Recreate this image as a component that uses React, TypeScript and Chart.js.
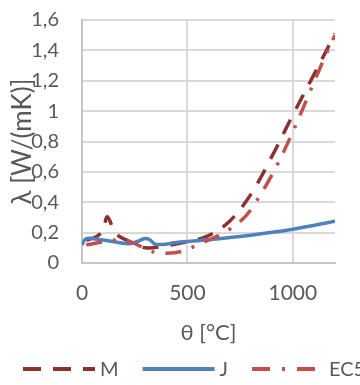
import React, { useEffect, useRef } from "react";
import { Chart, registerables } from "chart.js";

Chart.register(...registerables);

// Thermal conductivity of wood vs. temperature: three models
const mTemps = [20, 70, 100, 120, 160, 220, 300, 400, 500, 600, 700, 800, 900, 1000, 1100, 1200];
const mValues = [0.15, 0.175, 0.215, 0.305, 0.195, 0.145, 0.1, 0.115, 0.14, 0.18, 0.275, 0.45, 0.7, 0.975, 1.24, 1.51];

const jTemps = [0, 20, 80, 150, 220, 260, 295, 320, 345, 380, 450, 600, 800, 1000, 1200];
const jValues = [0.12, 0.16, 0.155, 0.14, 0.127, 0.14, 0.16, 0.155, 0.125, 0.122, 0.135, 0.153, 0.183, 0.222, 0.275];

const ec5Temps = [20, 200, 350, 500, 800, 1200];
const ec5Values = [0.12, 0.15, 0.07, 0.09, 0.35, 1.5];

const seriesLabels = ["M", "J", "EC5"];
const xTickValues = [0, 500, 1000];
const xTickLabels = ["0", "500", "1000"];
const yTickValues = [0, 0.2, 0.4, 0.6, 0.8, 1, 1.2, 1.4, 1.6];
const yTickLabels = ["0", "0,2", "0,4", "0,6", "0,8", "1", "1,2", "1,4", "1,6"];

const FONT = "Lato, 'Open Sans', sans-serif";
const TEXT = "#595959";

const toPoints = (xs: number[], ys: number[]) => xs.map((x, i) => ({ x, y: ys[i] }));

// Legend drawn as a single row of line samples below the axis title
const lineLegend = {
  id: "lineLegend",
  afterDraw(chart: any) {
    const { ctx } = chart;
    const y = 369;
    let x = 23;
    ctx.save();
    ctx.font = `20px ${FONT}`;
    ctx.textBaseline = "middle";
    ctx.textAlign = "left";
    chart.data.datasets.forEach((ds: any) => {
      ctx.strokeStyle = ds.borderColor;
      ctx.lineWidth = 4;
      ctx.lineCap = "butt";
      ctx.setLineDash(ds.legendDash || []);
      ctx.beginPath();
      ctx.moveTo(x, y);
      ctx.lineTo(x + 72, y);
      ctx.stroke();
      ctx.setLineDash([]);
      ctx.fillStyle = TEXT;
      ctx.fillText(ds.label, x + 77, y + 1);
      x += 77 + ctx.measureText(ds.label).width + 24;
    });
    ctx.restore();
  },
};

export default function App() {
  const canvasRef = useRef<HTMLCanvasElement | null>(null);

  useEffect(() => {
    const canvas = canvasRef.current;
    if (!canvas) return;
    const chart = new Chart(canvas, {
      type: "line",
      data: {
        datasets: [
          {
            label: seriesLabels[0],
            data: toPoints(mTemps, mValues),
            borderColor: "#8A3230",
            borderWidth: 3.5,
            borderDash: [16, 12],
            legendDash: [18, 12],
            tension: 0.35,
            pointRadius: 0,
            order: 2,
          } as any,
          {
            label: seriesLabels[1],
            data: toPoints(jTemps, jValues),
            borderColor: "#4F81BD",
            borderWidth: 3.5,
            tension: 0.35,
            pointRadius: 0,
            order: 1,
          } as any,
          {
            label: seriesLabels[2],
            data: toPoints(ec5Temps, ec5Values),
            borderColor: "#C0504D",
            borderWidth: 3.5,
            borderDash: [16, 11, 3, 11],
            legendDash: [18, 12, 3, 12],
            tension: 0.35,
            pointRadius: 0,
            order: 0,
          } as any,
        ],
      },
      options: {
        responsive: false,
        animation: false,
        devicePixelRatio: 1,
        layout: { padding: { top: 20, right: 25, bottom: 39, left: 0 } },
        plugins: {
          legend: { display: false },
          tooltip: { enabled: false },
        },
        scales: {
          x: {
            type: "linear",
            bounds: "data",
            min: 0,
            max: 1200,
            afterBuildTicks: (s: any) => {
              s.ticks = xTickValues.map((value) => ({ value }));
            },
            afterFit: (s: any) => {
              s.height = 83;
            },
            ticks: {
              padding: 0,
              color: TEXT,
              font: { family: FONT, size: 21 },
              callback: (_v: any, i: number) => xTickLabels[i],
            },
            grid: { color: "#D9D9D9", lineWidth: 2, drawTicks: true, tickLength: 18, tickColor: "rgba(0,0,0,0)" },
            border: { color: "#C6C6C6", width: 2 },
            title: {
              display: true,
              text: "θ [°C]",
              color: TEXT,
              font: { family: FONT, size: 22 },
              padding: { top: 0, bottom: 0 },
            },
          },
          y: {
            min: 0,
            max: 1.6,
            afterBuildTicks: (s: any) => {
              s.ticks = yTickValues.map((value) => ({ value }));
            },
            afterFit: (s: any) => {
              s.width = 82;
            },
            ticks: {
              padding: 0,
              color: TEXT,
              font: { family: FONT, size: 20 },
              callback: (_v: any, i: number) => yTickLabels[i],
            },
            grid: { color: "#D9D9D9", lineWidth: 2, drawTicks: true, tickLength: 23, tickColor: "rgba(0,0,0,0)" },
            border: { color: "#C6C6C6", width: 2 },
            title: {
              display: true,
              text: "λ [W/(mK)]",
              color: TEXT,
              font: { family: FONT, size: 26 },
              padding: { top: 7, bottom: 0 },
            },
          },
        },
      },
      plugins: [lineLegend],
    });
    return () => chart.destroy();
  }, []);

  return (
    <div style={{ position: "absolute", left: 0, top: 0, width: 360, height: 385, overflow: "hidden", background: "#fff" }}>
      <canvas ref={canvasRef} width={360} height={385} style={{ display: "block" }} />
    </div>
  );
}
